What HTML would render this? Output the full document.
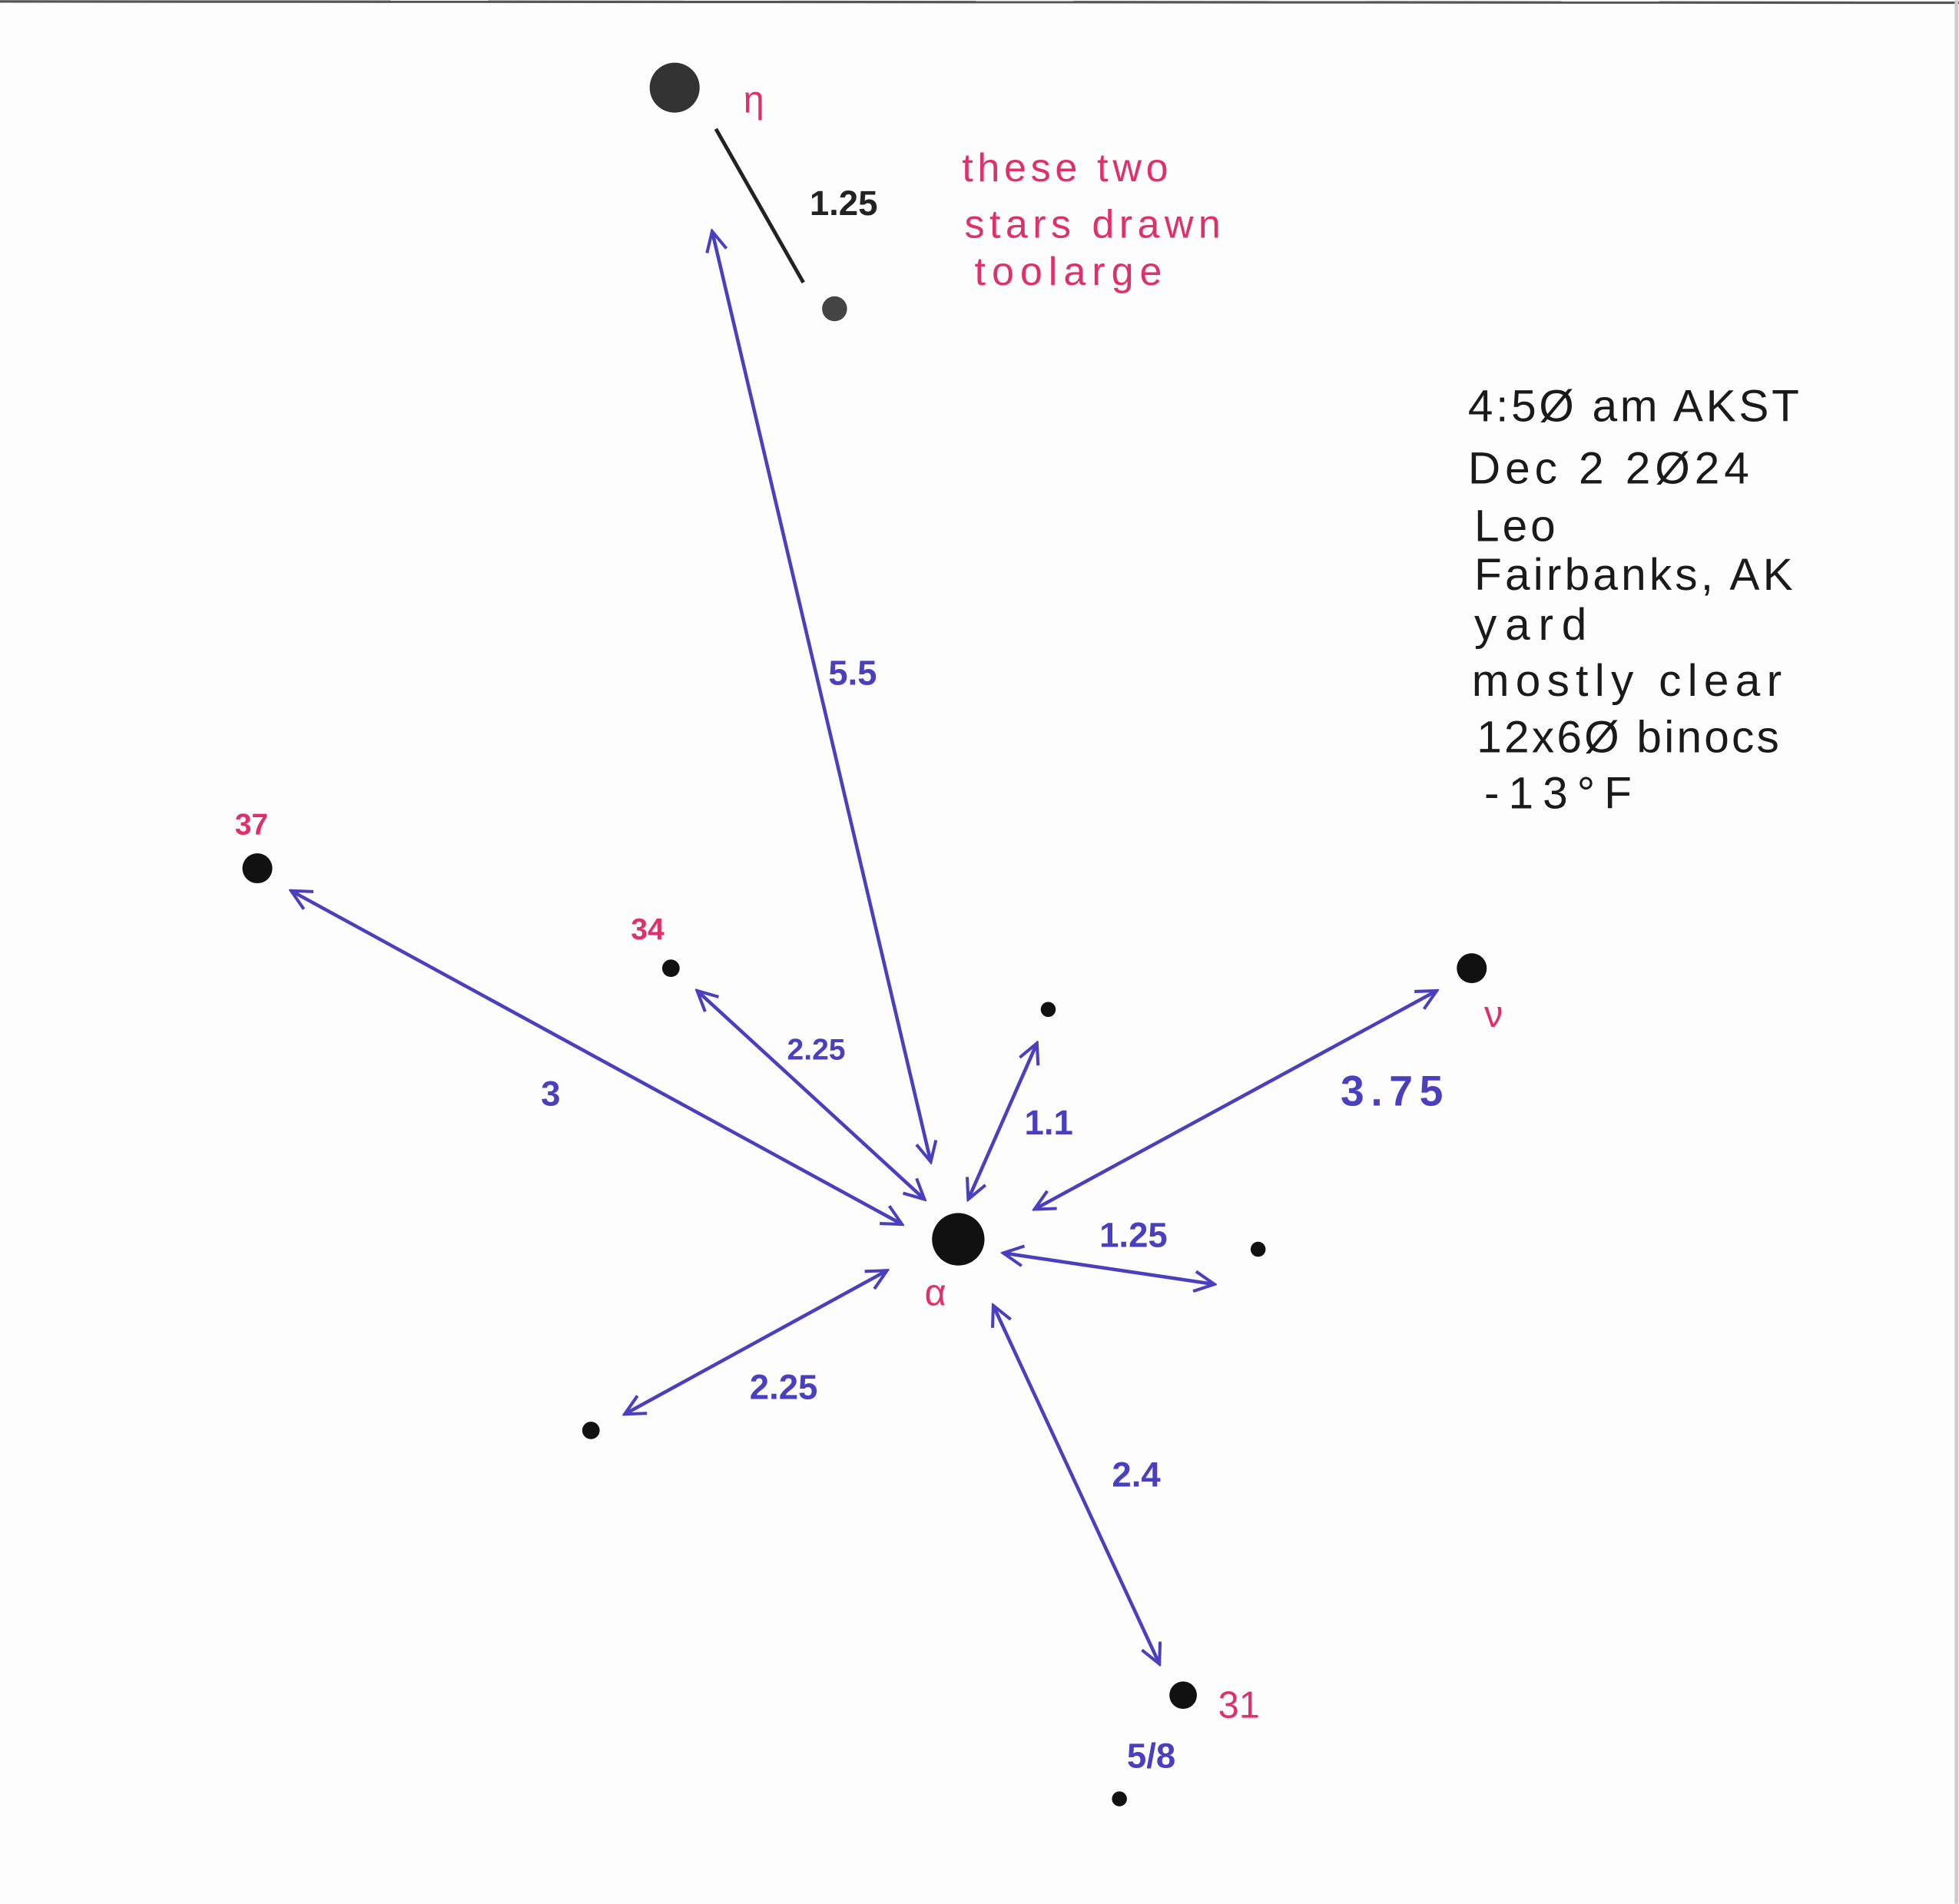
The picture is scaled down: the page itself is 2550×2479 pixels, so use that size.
<!DOCTYPE html>
<html><head><meta charset="utf-8"><style>
html,body{margin:0;padding:0;background:#fdfdfd}
svg{display:block}
text{font-family:"Liberation Sans",sans-serif}
</style></head><body>
<svg width="2550" height="2479" viewBox="0 0 1568 1524" xmlns="http://www.w3.org/2000/svg">
<defs>
<marker id="a" viewBox="0 0 20 20" refX="18" refY="10" markerWidth="20" markerHeight="20" markerUnits="userSpaceOnUse" orient="auto-start-reverse">
<path d="M2 2 L18 10 L2 18" fill="none" stroke="#4a3fbf" stroke-width="2.5"/>
</marker>
</defs>
<rect width="1568" height="1524" fill="#fdfdfd"/>
<line x1="0" y1="1" x2="1568" y2="2" stroke="#555" stroke-width="2"/>
<line x1="1566" y1="0" x2="1566" y2="1524" stroke="#ccc" stroke-width="3"/>
<g stroke="#4a3fbf" stroke-width="2.8" fill="none" marker-start="url(#a)" marker-end="url(#a)">
<line x1="570" y1="185" x2="745" y2="930"/>
<line x1="233" y1="713" x2="722" y2="980"/>
<line x1="558" y1="793" x2="740" y2="960"/>
<line x1="830" y1="835" x2="775" y2="960"/>
<line x1="1150" y1="793" x2="828" y2="968"/>
<line x1="803" y1="1003" x2="972" y2="1028"/>
<line x1="710" y1="1017" x2="500" y2="1132"/>
<line x1="795" y1="1045" x2="928" y2="1332"/>
</g>
<line x1="573" y1="103" x2="643" y2="226" stroke="#222" stroke-width="3"/>
<g fill="#111">
<circle cx="540" cy="70" r="20" fill="#333"/>
<circle cx="668" cy="247" r="10" fill="#444"/>
<circle cx="206" cy="695" r="12"/>
<circle cx="537" cy="775" r="7"/>
<circle cx="839" cy="808" r="6"/>
<circle cx="1178" cy="775" r="12"/>
<circle cx="767" cy="992" r="21"/>
<circle cx="1007" cy="1000" r="6"/>
<circle cx="473" cy="1145" r="7"/>
<circle cx="947" cy="1357" r="11"/>
<circle cx="896" cy="1440" r="6"/>
</g>
<g fill="#e0306a" font-size="30">
<text x="595" y="90">η</text>
<text x="188" y="668" font-size="24" font-weight="bold">37</text>
<text x="505" y="752" font-size="24" font-weight="bold">34</text>
<text x="1188" y="822">ν</text>
<text x="740" y="1045">α</text>
<text x="975" y="1375">31</text>
<text x="770" y="145" font-size="32" textLength="165">these two</text>
<text x="772" y="190" font-size="32" textLength="205">stars drawn</text>
<text x="780" y="228" font-size="32" textLength="150">toolarge</text>
</g>
<g fill="#4a3fbf" font-size="28" font-weight="bold">
<text x="663" y="548">5.5</text>
<text x="433" y="885">3</text>
<text x="630" y="848" font-size="24">2.25</text>
<text x="820" y="908">1.1</text>
<text x="1073" y="885" font-size="34" textLength="82">3.75</text>
<text x="880" y="998">1.25</text>
<text x="600" y="1120">2.25</text>
<text x="890" y="1190">2.4</text>
<text x="902" y="1415">5/8</text>
</g>
<text x="648" y="172" font-size="28" fill="#222" font-weight="bold">1.25</text>
<g fill="#1a1a1a" font-size="36">
<text x="1175" y="337" textLength="265">4:5Ø am AKST</text>
<text x="1175" y="387" textLength="225">Dec 2 2Ø24</text>
<text x="1180" y="433" textLength="65">Leo</text>
<text x="1180" y="472" textLength="255">Fairbanks, AK</text>
<text x="1180" y="512" textLength="90">yard</text>
<text x="1178" y="557" textLength="248">mostly clear</text>
<text x="1182" y="602" textLength="242">12x6Ø binocs</text>
<text x="1188" y="647" textLength="118">-13°F</text>
</g>
</svg>
</body></html>
